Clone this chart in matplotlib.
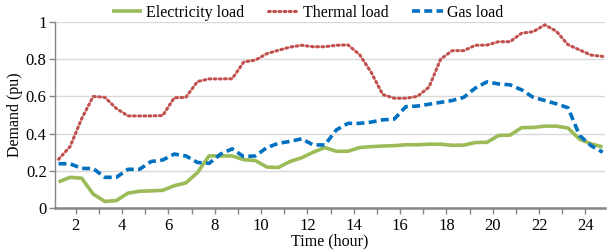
import numpy as np
import matplotlib.pyplot as plt
from matplotlib.ticker import MultipleLocator

# half-hourly samples, 1.25 h ... 24.75 h
time_h = np.arange(1.25, 25.0, 0.5)

electricity = [0.14, 0.165, 0.16, 0.075, 0.035, 0.04, 0.08, 0.09, 0.092, 0.095,
               0.12, 0.135, 0.19, 0.28, 0.28, 0.28, 0.26, 0.255, 0.22, 0.218,
               0.25, 0.27, 0.30, 0.325, 0.305, 0.305, 0.325, 0.33, 0.333, 0.335,
               0.34, 0.34, 0.343, 0.343, 0.337, 0.338, 0.352, 0.353, 0.39, 0.392,
               0.432, 0.433, 0.44, 0.44, 0.43, 0.37, 0.345, 0.328]

thermal = [0.262, 0.33, 0.48, 0.60, 0.595, 0.535, 0.495, 0.495, 0.495, 0.497,
           0.593, 0.595, 0.68, 0.694, 0.694, 0.695, 0.785, 0.795, 0.83, 0.848,
           0.865, 0.875, 0.867, 0.867, 0.875, 0.877, 0.825, 0.73, 0.61, 0.59,
           0.59, 0.60, 0.65, 0.80, 0.846, 0.846, 0.875, 0.876, 0.894, 0.894,
           0.94, 0.948, 0.985, 0.95, 0.878, 0.85, 0.822, 0.815]

gas = [0.238, 0.238, 0.213, 0.212, 0.165, 0.165, 0.208, 0.208, 0.25, 0.258,
       0.29, 0.28, 0.245, 0.24, 0.29, 0.318, 0.276, 0.28, 0.325, 0.348,
       0.358, 0.372, 0.339, 0.339, 0.42, 0.455, 0.455, 0.462, 0.474, 0.478,
       0.545, 0.548, 0.558, 0.568, 0.578, 0.595, 0.645, 0.678, 0.667, 0.662,
       0.635, 0.595, 0.578, 0.56, 0.539, 0.39, 0.335, 0.30]

plt.rcParams['font.family'] = ['Liberation Serif', 'DejaVu Serif']

fig = plt.figure(figsize=(6.12, 2.5), dpi=100)
ax = fig.add_axes([0.0899, 0.168, 0.8987, 0.744])

ax.plot(time_h, electricity, color='#9BBB59', lw=2.6, label='Electricity load',
        solid_capstyle='butt', zorder=3)
ax.plot(time_h, thermal, color='#C0504D', lw=2.2, linestyle=(0, (0.6, 1.1)),
        dash_capstyle='round', label='Thermal load', zorder=3)
ax.plot(time_h, gas, color='#0070C0', lw=2.6, linestyle=(0, (2.2, 1.2)),
        label='Gas load', zorder=3)

ax.set_xlim(1.1, 24.85)
ax.set_ylim(0, 1)
ax.xaxis.set_major_locator(MultipleLocator(2))
ax.xaxis.set_minor_locator(MultipleLocator(1))
ax.set_yticks([0, 0.2, 0.4, 0.6, 0.8, 1.0])
ax.set_yticklabels(['0', '0.2', '0.4', '0.6', '0.8', '1'])

ax.grid(axis='y', color='#D9D9D9', lw=1.0, zorder=0)
for s in ['top', 'right']:
    ax.spines[s].set_visible(False)
ax.spines['left'].set_color('#868686')
ax.spines['bottom'].set_color('#868686')
ax.spines['bottom'].set_linewidth(1.8)
ax.spines['left'].set_linewidth(1.0)

ax.tick_params(axis='both', which='both', colors='#868686', labelcolor='black',
               labelsize=12, direction='out')
ax.tick_params(axis='x', which='both', length=4, width=1, pad=3)
ax.tick_params(axis='y', length=4, width=1, pad=2)

ax.set_xlabel('Time (hour)', fontsize=11.5, labelpad=0)
ax.set_ylabel('Demand (pu)', fontsize=11.5, labelpad=2)

ax.legend(loc='center', bbox_to_anchor=(0.459, 1.048), ncol=3, frameon=False,
          fontsize=11.5, handlelength=1.9, columnspacing=1.5, handletextpad=0.25,
          borderaxespad=0, borderpad=0)

fig.savefig('out.png', dpi=100)
